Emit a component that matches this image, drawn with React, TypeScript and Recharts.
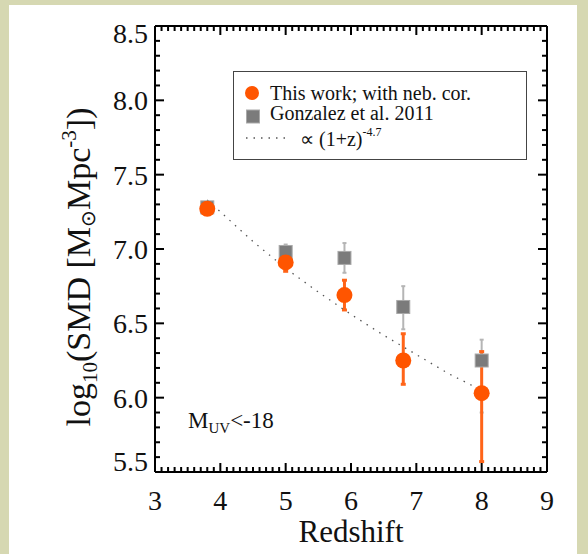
import React from "react";
import {
  ScatterChart,
  Scatter,
  XAxis,
  YAxis,
  ErrorBar,
  Legend,
  Label,
} from "recharts";

// This work (with nebular correction)
const redshiftThisWork = [3.8, 5.0, 5.9, 6.8, 8.0];
const smdThisWork = [7.27, 6.91, 6.69, 6.25, 6.03];
const errThisWork: [number, number][] = [
  [0.03, 0.03],
  [0.06, 0.08],
  [0.1, 0.1],
  [0.16, 0.18],
  [0.46, 0.28],
];

// Gonzalez et al. 2011
const redshiftGonzalez = [3.8, 5.0, 5.9, 6.8, 8.0];
const smdGonzalez = [7.28, 6.98, 6.94, 6.61, 6.25];
const errGonzalez: [number, number][] = [
  [0.02, 0.02],
  [0.05, 0.05],
  [0.1, 0.1],
  [0.15, 0.14],
  [0.35, 0.14],
];

// (1+z)^-4.7 guide line
const redshiftGuide = [3.8, 4.5, 5.0, 5.5, 6.0, 6.5, 7.0, 7.5, 8.0];
const smdGuide = [7.33, 7.05, 6.87, 6.71, 6.56, 6.42, 6.29, 6.16, 6.05];

const xTickLabels = ["3", "4", "5", "6", "7", "8", "9"];
const xMajorTicks = [3, 4, 5, 6, 7, 8, 9];
const yTickLabels = ["5.5", "6.0", "6.5", "7.0", "7.5", "8.0", "8.5"];
const yMajorTicks = [5.5, 6.0, 6.5, 7.0, 7.5, 8.0, 8.5];

// minor ticks every 0.1 on both axes
const xAllTicks = Array.from({ length: 61 }, (_, i) => +(3 + i * 0.1).toFixed(1));
const yAllTicks = Array.from({ length: 31 }, (_, i) => +(5.5 + i * 0.1).toFixed(1));

const X_MIN = 3;
const X_MAX = 9;
const Y_MIN = 5.5;
const Y_MAX = 8.5;

const thisWorkData = redshiftThisWork.map((z, i) => ({
  z,
  smd: smdThisWork[i],
  err: errThisWork[i],
}));
const gonzalezData = redshiftGonzalez.map((z, i) => ({
  z,
  smd: smdGonzalez[i],
  err: errGonzalez[i],
}));
const guideData = redshiftGuide.map((z, i) => ({ z, smd: smdGuide[i] }));

// inward tick marks on all four sides of the frame
const bottomMarks = xAllTicks.map((z) => ({ z, smd: Y_MIN, major: xMajorTicks.includes(z) }));
const topMarks = xAllTicks.map((z) => ({ z, smd: Y_MAX, major: xMajorTicks.includes(z) }));
const leftMarks = yAllTicks.map((smd) => ({ z: X_MIN, smd, major: yMajorTicks.includes(smd) }));
const rightMarks = yAllTicks.map((smd) => ({ z: X_MAX, smd, major: yMajorTicks.includes(smd) }));

const FONT = '"Liberation Serif", "Times New Roman", serif';
const ORANGE = "#ff5500";
const GREY = "#7b7b7b";
const TW = 2; // tick mark thickness
const MAJOR_LEN = 9;
const MINOR_LEN = 5;

const markLen = (p: any) => (p.payload && p.payload.major ? MAJOR_LEN : MINOR_LEN);

const UpMark = (p: any) => {
  const len = markLen(p);
  return <rect x={p.cx - TW / 2} y={p.cy - len} width={TW} height={len} fill="#000" />;
};
const DownMark = (p: any) => {
  const len = markLen(p);
  return <rect x={p.cx - TW / 2} y={p.cy} width={TW} height={len} fill="#000" />;
};
const RightwardMark = (p: any) => {
  const len = markLen(p);
  return <rect x={p.cx} y={p.cy - TW / 2} width={len} height={TW} fill="#000" />;
};
const LeftwardMark = (p: any) => {
  const len = markLen(p);
  return <rect x={p.cx - len} y={p.cy - TW / 2} width={len} height={TW} fill="#000" />;
};

const BottomLabel = (props: any) => {
  const { x, y, payload } = props;
  return (
    <text x={x} y={y + 38} textAnchor="middle" fontSize={28} fontFamily={FONT} fill="#111">
      {xTickLabels[xMajorTicks.indexOf(payload.value)]}
    </text>
  );
};

const LeftLabel = (props: any) => {
  const { x, y, payload } = props;
  const v = payload.value;
  // end labels sit a little inside the frame
  const shift = v === Y_MAX ? 17 : v === Y_MIN ? -1 : 10;
  return (
    <text x={x - 7} y={y + shift} textAnchor="end" fontSize={28} fontFamily={FONT} fill="#111">
      {yTickLabels[yMajorTicks.indexOf(v)]}
    </text>
  );
};

const OrangeDot = (p: any) => <circle cx={p.cx} cy={p.cy} r={8} fill={ORANGE} />;
const GreySquare = (p: any) => (
  <rect x={p.cx - 6.5} y={p.cy - 6.5} width={13} height={13} fill={GREY} stroke="#a9a9a9" strokeWidth={1} />
);
const NoShape = () => <g />;

const YTitle = (props: any) => {
  const vb = props.viewBox || { x: 5, y: 26, width: 150, height: 446 };
  const cx = vb.x + 85;
  const cy = vb.y + vb.height / 2 + 18;
  return (
    <text
      transform={`translate(${cx}, ${cy}) rotate(-90)`}
      textAnchor="middle"
      fontSize={34}
      fontFamily={FONT}
      fill="#111"
    >
      log
      <tspan fontSize={21} dy={7}>10</tspan>
      <tspan dy={-7}>(SMD [M</tspan>
      <tspan fontSize={20} dy={5}>⊙</tspan>
      <tspan dy={-5}>Mpc</tspan>
      <tspan fontSize={21} dy={-14}>-3</tspan>
      <tspan dy={14}>])</tspan>
    </text>
  );
};

const XTitle = (props: any) => {
  const vb = props.viewBox || { x: 155, y: 472, width: 392, height: 60 };
  return (
    <text x={vb.x + vb.width / 2} y={vb.y + 70} textAnchor="middle" fontSize={31} fontFamily={FONT} fill="#111">
      Redshift
    </text>
  );
};

const LegendBox = () => (
  <div
    style={{
      width: 294,
      height: 89,
      boxSizing: "border-box",
      border: "1.5px solid #444",
      background: "#fff",
    }}
  >
    <svg width={291} height={86} style={{ display: "block" }}>
      <circle cx={18} cy={21} r={7} fill={ORANGE} />
      <text x={36} y={28} fontSize={20} fontFamily={FONT} fill="#111">
        This work; with neb. cor.
      </text>
      <rect x={12.5} y={38} width={13} height={13} fill={GREY} stroke="#a9a9a9" strokeWidth={1} />
      <text x={36} y={48} fontSize={20} fontFamily={FONT} fill="#111">
        Gonzalez et al. 2011
      </text>
      <line x1={12} y1={66} x2={56} y2={66} stroke="#555" strokeWidth={1.3} strokeDasharray="1.5 6" />
      <text x={66} y={74} fontSize={20} fontFamily={FONT} fill="#111">
        ∝ (1+z)
        <tspan fontSize={12} dy={-10}>-4.7</tspan>
      </text>
    </svg>
  </div>
);

const FRAME = { stroke: "#000", strokeWidth: 2 };

export default function App() {
  return (
    <div style={{ position: "absolute", left: 0, top: 0, width: 588, height: 554, background: "#d6d8b2" }}>
      <div style={{ position: "absolute", left: 9, top: 5, width: 568, height: 549, background: "#fff" }} />
      <div style={{ position: "absolute", left: 0, top: 0 }}>
        <ScatterChart width={588} height={554} margin={{ top: 25, right: 40, bottom: 22, left: 5 }}>
          <XAxis
            xAxisId="bottom"
            dataKey="z"
            type="number"
            domain={[X_MIN, X_MAX]}
            ticks={xMajorTicks}
            interval={0}
            orientation="bottom"
            height={60}
            tickSize={0}
            tickMargin={0}
            tickLine={false}
            axisLine={{ ...FRAME }}
            tick={BottomLabel}
          >
            <Label content={XTitle} />
          </XAxis>
          <XAxis
            xAxisId="top"
            type="number"
            domain={[X_MIN, X_MAX]}
            ticks={xMajorTicks}
            orientation="top"
            height={1}
            tickSize={0}
            tickLine={false}
            tick={false}
            axisLine={{ ...FRAME }}
          />
          <YAxis
            yAxisId="left"
            dataKey="smd"
            type="number"
            domain={[Y_MIN, Y_MAX]}
            ticks={yMajorTicks}
            interval={0}
            orientation="left"
            width={150}
            tickSize={0}
            tickMargin={0}
            tickLine={false}
            axisLine={{ ...FRAME }}
            tick={LeftLabel}
          >
            <Label content={YTitle} />
          </YAxis>
          <YAxis
            yAxisId="right"
            type="number"
            domain={[Y_MIN, Y_MAX]}
            ticks={yMajorTicks}
            orientation="right"
            width={1}
            tickSize={0}
            tickLine={false}
            tick={false}
            axisLine={{ ...FRAME }}
          />

          <Scatter data={bottomMarks} xAxisId="bottom" yAxisId="left" shape={UpMark} legendType="none" isAnimationActive={false} />
          <Scatter data={topMarks} xAxisId="bottom" yAxisId="left" shape={DownMark} legendType="none" isAnimationActive={false} />
          <Scatter data={leftMarks} xAxisId="bottom" yAxisId="left" shape={RightwardMark} legendType="none" isAnimationActive={false} />
          <Scatter data={rightMarks} xAxisId="bottom" yAxisId="left" shape={LeftwardMark} legendType="none" isAnimationActive={false} />

          <Scatter
            name="guide"
            data={guideData}
            xAxisId="bottom"
            yAxisId="left"
            line={{ stroke: "#555", strokeWidth: 1.3, strokeDasharray: "1.5 6" }}
            shape={NoShape}
            legendType="none"
            isAnimationActive={false}
          />
          <Scatter
            name="Gonzalez et al. 2011"
            data={gonzalezData}
            xAxisId="bottom"
            yAxisId="left"
            shape={GreySquare}
            isAnimationActive={false}
          >
            <ErrorBar dataKey="err" direction="y" width={2} strokeWidth={2} stroke="#b5b5b5" isAnimationActive={false} />
          </Scatter>
          <Scatter
            name="This work; with neb. cor."
            data={thisWorkData}
            xAxisId="bottom"
            yAxisId="left"
            shape={OrangeDot}
            isAnimationActive={false}
          >
            <ErrorBar dataKey="err" direction="y" width={2.5} strokeWidth={3} stroke="#ff6418" isAnimationActive={false} />
          </Scatter>

          <text x={188} y={428} fontSize={23} fontFamily={FONT} fill="#111">
            M
            <tspan fontSize={15} dy={5}>UV</tspan>
            <tspan dy={-5}>{"<-18"}</tspan>
          </text>

          <Legend
            layout="vertical"
            align="center"
            verticalAlign="middle"
            content={LegendBox}
            wrapperStyle={{ left: 233, top: 71, width: 294, height: 89 }}
          />
        </ScatterChart>
      </div>
    </div>
  );
}
